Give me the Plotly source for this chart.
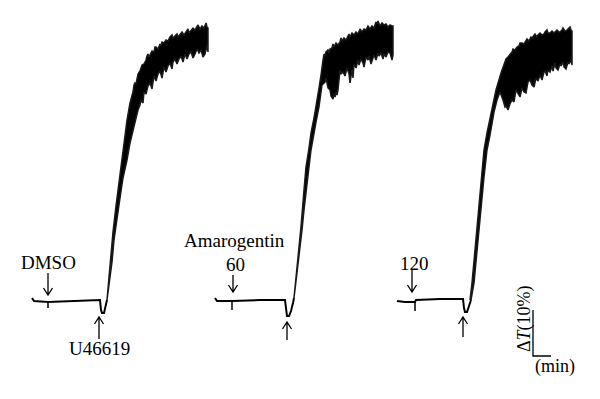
import plotly.graph_objects as go

# ---------------- data (time units along x, relative tension along y) ----------------
# Panel 1: DMSO
p1_base_t = [32, 34, 48, 75, 100, 101, 102, 104, 106, 107]
p1_base_v = [2, -1, -2, -1, 0, -10, -13, -13, -5, 0]
p1_top_t = [107, 110, 113, 116, 119, 122, 124, 127, 130, 132, 133, 134, 135, 136, 138, 140, 142, 144,
            146, 147, 148, 149, 150, 152, 154, 155, 156, 158, 160, 161, 162, 164, 166, 168, 170, 172,
            173, 175, 177, 178, 180, 182, 184, 186, 188, 189, 191, 193, 195, 197, 198, 200, 202, 204,
            205, 206, 207, 208]
p1_top_v = [0, 38, 68, 94, 118, 140, 157, 180, 197, 203, 208, 215, 217, 216, 226, 229, 235, 236,
            240, 244, 246, 243, 245, 249, 248, 253, 253, 251, 256, 254, 258, 257, 260, 259, 263, 265,
            262, 264, 266, 263, 265, 268, 265, 268, 271, 267, 269, 272, 270, 273, 275, 271, 274, 272,
            276, 277, 273, 272]
p1_bot_t = [208, 207, 206, 205, 203, 201, 199, 197, 195, 193, 191, 189, 187, 185, 183, 181, 179, 177,
            175, 173, 172, 170, 168, 166, 164, 162, 160, 158, 156, 154, 152, 150, 148, 146, 144, 143,
            141, 140, 138, 136, 133, 130, 127, 123, 120, 117, 114, 112, 110, 108, 107]
p1_bot_v = [248, 255, 250, 246, 243, 250, 247, 251, 246, 242, 248, 246, 241, 246, 238, 244, 241, 236,
            241, 238, 231, 237, 234, 228, 233, 222, 229, 226, 219, 224, 211, 217, 214, 206, 208, 197,
            200, 195, 190, 182, 170, 157, 140, 122, 102, 82, 60, 38, 22, 8, 0]

# Panel 2: Amarogentin 60
p2_base_t = [215, 217, 232, 260, 285, 286, 287, 289, 291, 293, 294]
p2_base_v = [2, -1, -1, 0, 0, -8, -16, -16, -11, -3, 2]
p2_top_t = [294, 297, 299, 301, 304, 306, 309, 311, 314, 316, 319, 321, 322, 323, 324, 325, 326, 328,
            329, 330, 332, 333, 334, 336, 338, 340, 341, 342, 344, 346, 348, 349, 350, 352, 354, 356,
            358, 360, 362, 364, 366, 368, 370, 372, 374, 376, 377, 378, 380, 382, 384, 386, 388, 390,
            392, 393]
p2_top_v = [2, 30, 55, 73, 110, 133, 152, 167, 182, 193, 212, 225, 235, 240, 246, 244, 248, 250,
            247, 251, 252, 256, 253, 257, 255, 258, 262, 259, 262, 260, 264, 266, 263, 267, 265, 268,
            266, 271, 268, 271, 270, 274, 271, 274, 272, 278, 276, 279, 274, 277, 275, 276, 273, 275,
            274, 274]
p2_bot_t = [393, 392, 390, 388, 386, 384, 383, 381, 379, 378, 376, 374, 373, 371, 369, 368, 366, 364,
            363, 361, 359, 358, 356, 354, 353, 352, 350, 349, 347, 345, 343, 341, 340, 339, 338, 337,
            336, 335, 334, 333, 331, 330, 328, 326, 325, 322, 319, 316, 314, 311, 309, 306, 304, 302,
            299, 296, 294]
p2_bot_v = [245, 240, 247, 248, 243, 246, 241, 247, 244, 247, 240, 245, 242, 236, 244, 240, 243, 233,
            237, 241, 235, 240, 232, 236, 222, 230, 217, 226, 232, 224, 228, 226, 230, 218, 210, 205,
            208, 203, 206, 201, 204, 210, 212, 222, 218, 215, 193, 178, 167, 150, 133, 110, 90, 70,
            45, 20, 2]

# Panel 3: Amarogentin 120
p3_base_t = [397, 405, 415, 416, 440, 463, 464, 465, 467, 469, 471]
p3_base_v = [-1, -2, -2, 0, 1, 1, -8, -12, -12, -6, 0]
p3_top_t = [470, 472, 475, 478, 481, 484, 487, 492, 496, 501, 503, 505, 506, 508, 510, 512, 513, 515,
            517, 519, 520, 522, 524, 526, 527, 529, 531, 532, 534, 535, 537, 538, 540, 542, 544, 545,
            547, 548, 550, 552, 554, 555, 557, 559, 560, 562, 563, 565, 566, 568, 570, 571, 572]
p3_top_v = [0, 17, 50, 83, 123, 150, 167, 190, 210, 227, 233, 237, 241, 243, 246, 248, 251, 250,
            253, 254, 257, 257, 256, 260, 261, 259, 263, 262, 264, 266, 263, 265, 267, 265, 266, 268,
            270, 267, 267, 269, 267, 268, 270, 268, 268, 270, 272, 269, 269, 271, 273, 270, 269]
p3_bot_t = [572, 571, 569, 568, 566, 564, 563, 561, 560, 558, 556, 555, 553, 552, 550, 548, 547, 545,
            544, 542, 540, 538, 536, 534, 532, 530, 528, 526, 524, 522, 520, 518, 516, 514, 512, 510,
            508, 506, 505, 503, 500, 497, 494, 490, 487, 484, 480, 477, 474, 471]
p3_bot_v = [235, 240, 236, 238, 231, 233, 238, 234, 236, 230, 232, 237, 229, 234, 228, 230, 224, 229,
            228, 220, 225, 219, 222, 213, 215, 220, 218, 207, 208, 212, 203, 206, 210, 198, 200, 196,
            190, 194, 193, 200, 208, 200, 188, 165, 150, 123, 83, 50, 17, 0]

# Event marks on the trace (time, top, bottom)
tick_t = [48, 232, 415]
tick_top = [-2, -1, -2]
tick_bot = [-8, -10, -11]

# Drug-addition arrows: time, tail, head
arrow_t = [48, 99, 233, 287, 412, 463]
arrow_tail = [27, -39, 25, -40, 30, -37]
arrow_head = [5, -17, 8, -22, 8, -17]

# Labels: text, time, level
label_text = ["DMSO", "U46619", "Amarogentin", "60", "120"]
label_t = [48, 99, 234, 235, 414]
label_v = [38, -48, 60, 36, 37]

# Scale bar
bar_t = [533, 551]
bar_v = [-10, -56]

# ---------------- figure ----------------
fig = go.Figure()
black = "#000000"

panels = [
    (p1_base_t, p1_base_v, p1_top_t, p1_top_v, p1_bot_t, p1_bot_v),
    (p2_base_t, p2_base_v, p2_top_t, p2_top_v, p2_bot_t, p2_bot_v),
    (p3_base_t, p3_base_v, p3_top_t, p3_top_v, p3_bot_t, p3_bot_v),
]
for bt, bv, tt, tv, lt, lv in panels:
    fig.add_trace(go.Scatter(x=bt, y=bv, mode="lines",
                             line=dict(color=black, width=2), hoverinfo="skip"))
    fig.add_trace(go.Scatter(x=tt + lt, y=tv + lv, mode="lines", fill="toself",
                             fillcolor=black, line=dict(color="#1a1a1a", width=1.5),
                             hoverinfo="skip"))

for t, a, b in zip(tick_t, tick_top, tick_bot):
    fig.add_trace(go.Scatter(x=[t, t], y=[a, b], mode="lines",
                             line=dict(color=black, width=1.5), hoverinfo="skip"))

shapes = []
for t, tail, head in zip(arrow_t, arrow_tail, arrow_head):
    d = 1 if tail > head else -1  # pointing down if tail above head
    path = (f"M {t},{tail} L {t},{head} "
            f"M {t-4.5},{head + d*7} L {t},{head} L {t+4.5},{head + d*7}")
    shapes.append(dict(type="path", path=path, xref="x", yref="y",
                       line=dict(color=black, width=1.3)))

shapes.append(dict(type="path",
                   path=f"M {bar_t[0]},{bar_v[0]} L {bar_t[0]},{bar_v[1]} L {bar_t[1]},{bar_v[1]}",
                   xref="x", yref="y", line=dict(color=black, width=1.3)))

annotations = []
for txt, t, v in zip(label_text, label_t, label_v):
    annotations.append(dict(x=t, y=v, xref="x", yref="y", text=txt, showarrow=False,
                            xanchor="center", yanchor="middle",
                            font=dict(family="Liberation Serif", size=19, color=black)))
annotations.append(dict(x=524, y=-19, xref="x", yref="y", text="Δ<i>T</i>(10%)",
                        showarrow=False, textangle=-90, xanchor="center", yanchor="middle",
                        font=dict(family="Liberation Serif", size=18, color=black)))
annotations.append(dict(x=555, y=-66, xref="x", yref="y", text="(min)",
                        showarrow=False, xanchor="center", yanchor="middle",
                        font=dict(family="Liberation Serif", size=18, color=black)))

fig.update_layout(
    width=600, height=399,
    margin=dict(l=0, r=0, t=0, b=0),
    paper_bgcolor="white", plot_bgcolor="white",
    showlegend=False,
    xaxis=dict(range=[0, 600], visible=False, fixedrange=True),
    yaxis=dict(range=[-99, 300], visible=False, fixedrange=True),
    shapes=shapes,
    annotations=annotations,
)

fig.write_html("out.html", config={"displayModeBar": False},
               post_script="document.body.style.margin='0';document.body.style.padding='0';")
